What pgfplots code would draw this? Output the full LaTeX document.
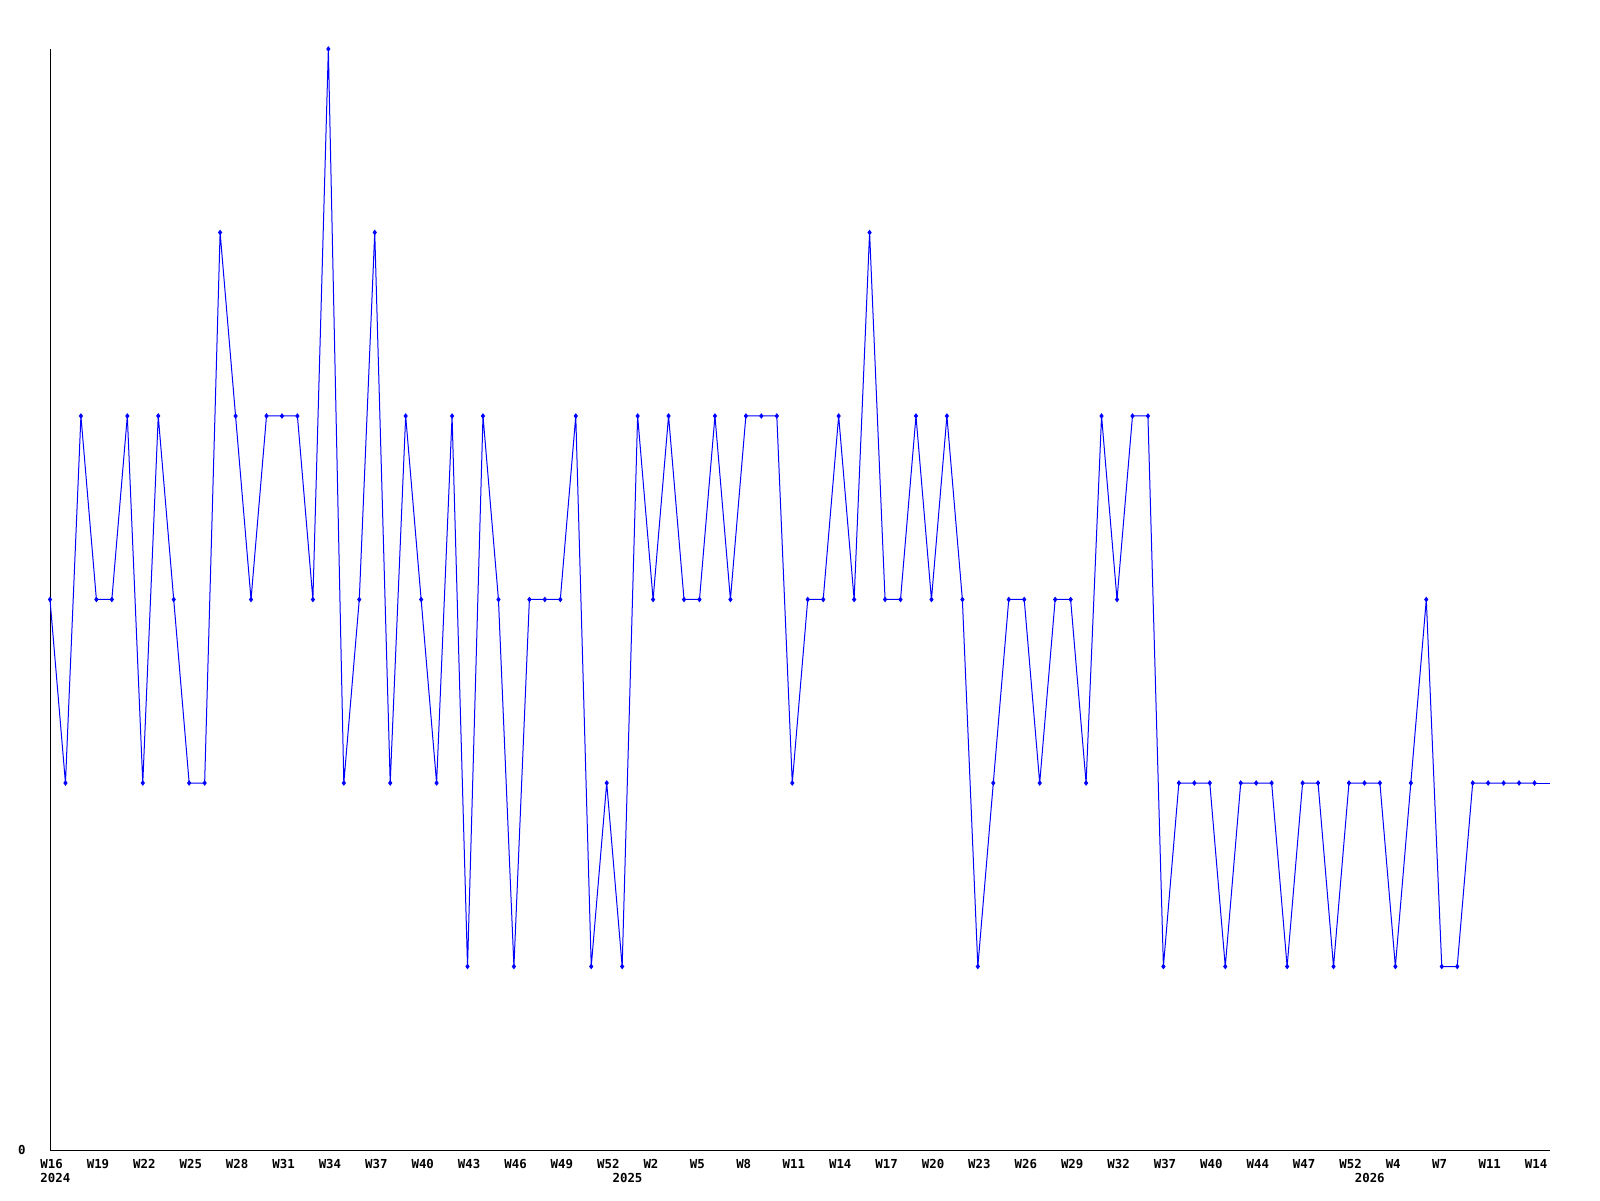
\documentclass[border=0pt]{standalone}
\usepackage{fontspec}
\setmonofont{DejaVu Sans Mono}
\usepackage{pgfplots}
\pgfplotsset{compat=1.18}
\usepackage{pgfplotstable}

% weekly values, index 0 = W16 2024
\pgfplotstableread{
idx val
0 3
1 2
2 4
3 3
4 3
5 4
6 2
7 4
8 3
9 2
10 2
11 5
12 4
13 3
14 4
15 4
16 4
17 3
18 6
19 2
20 3
21 5
22 2
23 4
24 3
25 2
26 4
27 1
28 4
29 3
30 1
31 3
32 3
33 3
34 4
35 1
36 2
37 1
38 4
39 3
40 4
41 3
42 3
43 4
44 3
45 4
46 4
47 4
48 2
49 3
50 3
51 4
52 3
53 5
54 3
55 3
56 4
57 3
58 4
59 3
60 1
61 2
62 3
63 3
64 2
65 3
66 3
67 2
68 4
69 3
70 4
71 4
72 1
73 2
74 2
75 2
76 1
77 2
78 2
79 2
80 1
81 2
82 2
83 1
84 2
85 2
86 2
87 1
88 2
89 3
90 1
91 1
92 2
93 2
94 2
95 2
96 2
}\weekdata

\begin{document}
\begin{tikzpicture}
\begin{axis}[
    name=ax,
    scale only axis,
    width=750pt,
    height=550.5pt,
    xmin=0, xmax=97,
    ymin=0, ymax=6,
    axis lines=left,
    axis line style={-, black, line width=0.5pt},
    major tick length=0pt,
    xtick={0,3,...,96},
    xticklabels={W16,W19,W22,W25,W28,W31,W34,W37,W40,W43,W46,W49,W52,
        W2,W5,W8,W11,W14,W17,W20,W23,W26,W29,W32,W37,W40,W44,W47,W52,
        W4,W7,W11,W14},
    ytick={0},
    yticklabels={0},
    tick label style={font=\fontsize{6.2}{7}\selectfont\ttfamily\bfseries, inner sep=0pt},
    xticklabel style={anchor=north west, xshift=-5pt, yshift=-4.5pt},
    yticklabel style={anchor=east, xshift=-12pt},
    clip=false,
]
\addplot[blue, line width=0.5pt, mark=diamond*, mark size=1pt,
    mark options={blue}] table[x=idx, y=val] {\weekdata};
\addplot[blue, line width=0.5pt] coordinates {(96,2) (97,2)};

\node[anchor=north west, inner sep=0pt, font=\fontsize{6.2}{7}\selectfont\ttfamily\bfseries]
    at ([xshift=-5pt, yshift=-11.5pt]axis cs:0,0) {2024};
\node[anchor=north west, inner sep=0pt, font=\fontsize{6.2}{7}\selectfont\ttfamily\bfseries]
    at ([xshift=-5pt, yshift=-11.5pt]axis cs:37,0) {2025};
\node[anchor=north west, inner sep=0pt, font=\fontsize{6.2}{7}\selectfont\ttfamily\bfseries]
    at ([xshift=-5pt, yshift=-11.5pt]axis cs:85,0) {2026};
\end{axis}
\pgfresetboundingbox
\path ([shift={(-25pt,-25pt)}]ax.south west) rectangle ([shift={(25pt,24.5pt)}]ax.north east);
\end{tikzpicture}
\end{document}
